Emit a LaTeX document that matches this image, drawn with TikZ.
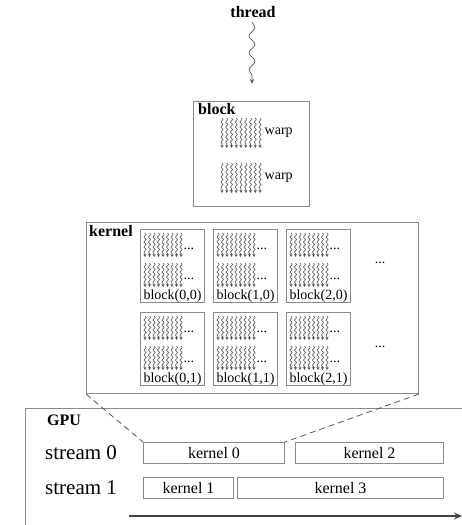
\documentclass[tikz,border=0pt]{standalone}
\usepackage{fontspec}
\setmainfont{Liberation Serif}
\usetikzlibrary{arrows.meta,decorations.pathmorphing,positioning,calc}

\definecolor{framegray}{HTML}{8A8A8A}
\definecolor{wavegray}{HTML}{555555}
\definecolor{arrowgray}{HTML}{444444}

% a bundle of threads = one warp
\newcommand{\warps}[4]{%
  \foreach \k in {0,...,8}
    \draw[wavy] ({#1+\k*#3/8},{#2}) -- ++(0,-#4);
}

\begin{document}
\begin{tikzpicture}[
    x=1pt, y=1pt,
    frame/.style  = { draw=framegray, line width=1pt, inner sep=0pt },
    title/.style  = { font=\bfseries\fontsize{16}{16}\selectfont,
                      inner sep=0pt, anchor=north west },
    lab/.style    = { font=\fontsize{14}{14}\selectfont, inner sep=0.5pt },
    wavy/.style   = { draw=wavegray, line width=0.6pt, decorate,
                      decoration={snake, amplitude=1.1pt,
                      segment length=5pt, post length=2.5pt},
                      -{Stealth[length=3pt,width=3pt]} },
    kbox/.style   = { frame, minimum height=21pt, font=\fontsize{16}{16}\selectfont },
    stream/.style = { font=\fontsize{21}{21}\selectfont, inner sep=0pt, anchor=west },
  ]
  \useasboundingbox (0,0) rectangle (462,-525);

  % thread
  \node (thread) [font=\bfseries\fontsize{16}{16}\selectfont, inner sep=0pt] at (253,-12) {thread};
  \coordinate (tend) at (252,-84);
  \draw[draw=wavegray, line width=0.7pt, decorate,
        decoration={snake, amplitude=3pt, segment length=17pt, post length=3pt},
        -{Stealth[length=5pt,width=4pt]}] (252,-22) -- (tend);

  % block
  \node (block) [frame, minimum width=116pt, minimum height=105pt, anchor=north west] at (193,-101) {};
  \node [title] at ($(block.north west)+(5,-2)$) {block};
  \warps{222}{-118}{38}{30}
  \node [lab, anchor=west] at (264,-133) {warp};
  \warps{222}{-163}{38}{30}
  \node [lab, anchor=west] at (264,-178) {warp};

  % kernel
  \node (kernel) [frame, minimum width=332pt, minimum height=171pt, anchor=north west] at (86,-222) {};
  \node [title] at ($(kernel.north west)+(3,-3)$) {kernel};
  \foreach \i in {0,1,2}
    \foreach \j in {0,1} {
      \node (b\i\j) [frame, fill=white, minimum width=64pt, minimum height=73pt, anchor=north west]
        at ({140+73*\i},{-229-83*\j}) {};
      \warps{145+73*\i}{-233-83*\j}{36}{24}
      \warps{145+73*\i}{-263-83*\j}{36}{24}
      \node [lab, anchor=west] at ({183+73*\i},{-249-83*\j}) {...};
      \node [lab, anchor=west] at ({183+73*\i},{-279-83*\j}) {...};
      \node [lab, anchor=south] at (b\i\j.south) {block(\i,\j)};
    }
  \node [lab] at (380,-263) {...};
  \node [lab] at (380,-347) {...};

  % GPU
  \draw[framegray, line width=1pt] (25,-525) |- (462,-408);
  \node [title] at (47,-415) {GPU};
  \node (s0) [stream] at (45,-453) {stream 0};
  \node (s1) [stream] at (45,-488) {stream 1};
  \node (k0) [kbox, minimum width=141pt, anchor=west] at (143,-453) {kernel 0};
  \node (k2) [kbox, minimum width=148pt, anchor=west] at (295,-453) {kernel 2};
  \node (k1) [kbox, minimum width=90pt, anchor=west] at (143,-488) {kernel 1};
  \node (k3) [kbox, minimum width=206pt, anchor=west] at (237,-488) {kernel 3};
  \coordinate (tstart) at (129,-516);
  \coordinate (tstop) at (462,-516);
  \draw[arrowgray, line width=2pt, -{Stealth[length=8pt,width=7pt]}] (tstart) -- (tstop);

  % zoom lines
  \draw[wavegray, dashed, dash pattern=on 6pt off 4pt, line width=0.8pt] (kernel.south west) -- (k0.north west);
  \draw[wavegray, dashed, dash pattern=on 6pt off 4pt, line width=0.8pt] (kernel.south east) -- (k0.north east);
\end{tikzpicture}
\end{document}
